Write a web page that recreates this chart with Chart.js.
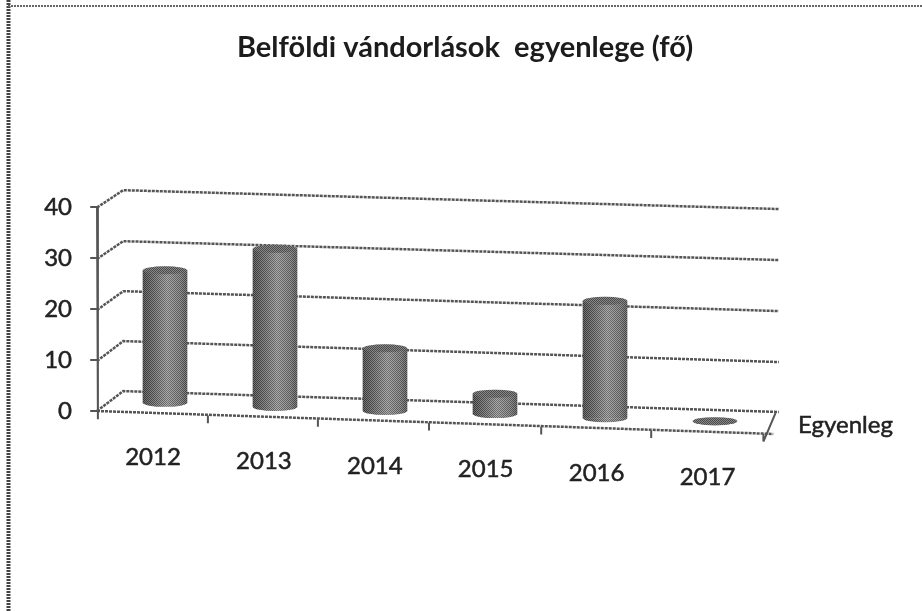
<!DOCTYPE html>
<html lang="hu">
<head>
<meta charset="utf-8">
<title>Belföldi vándorlások egyenlege (fő)</title>
<script src="https://cdn.jsdelivr.net/npm/chart.js@4"></script>
<style>
html,body{margin:0;padding:0;background:#fff;overflow:hidden;width:922px;height:611px}
canvas{display:block}
</style>
</head>
<body>
<canvas id="c" width="930" height="611"></canvas>
<script>
const chartTitle = 'Belföldi vándorlások  egyenlege (fő)';
const seriesName = 'Egyenleg';
const categories = ['2012','2013','2014','2015','2016','2017'];
const values = [26, 31, 12.3, 4, 23, 0];
// the 3D floor tilts downward to the right: where each cylinder stands on the value axis
const floorOffset = [1.6, 0.8, 0, -0.6, -1.4, -2];
const yTickValues = [0, 10, 20, 30, 40];

// perspective gridlines: x in category units, y in value units
const gridX = [-0.618, -0.38, 5.58];
const grid0 = [0, 3.9, -0.2];
const grid10 = [9.8, 13.7, 9.6];
const grid20 = [19.8, 23.5, 19.6];
const grid30 = [29.8, 33.3, 29.6];
const grid40 = [39.9, 43.3, 39.6];
const gridSets = [grid0, grid10, grid20, grid30, grid40];
const floorX = [-0.618, 5.53];
const floorY = [0, -4.5];
const tickX = [5.44, 4.42, 3.42, 2.40, 1.39, 0.39];
const tickTop = [-4.5, -3.8, -3.1, -2.3, -1.6, -0.9];
const tickBottom = [-6.0, -5.3, -4.6, -3.8, -3.1, -2.4];

const gridPts = ys => gridX.map((x, i) => ({x, y: ys[i]}));
const lineStyle = {
  type: 'line', xAxisID: 'x', yAxisID: 'y', order: 2, clip: false,
  borderColor: '#555', borderWidth: 2.5, borderDash: [3, 1],
  pointRadius: 0, tension: 0, fill: false, label: ''
};
const marks = [];
tickX.forEach((x, i) => {
  marks.push({x, y: tickTop[i]}, {x, y: tickBottom[i]}, {x, y: null});
});
// diagonal end of the floor, y axis line and its small outer ticks
marks.push({x: 5.44, y: -6}, {x: 5.55, y: -0.4}, {x: 5.55, y: null});
marks.push({x: -0.618, y: 40}, {x: -0.61, y: -1.6}, {x: -0.61, y: null});
yTickValues.forEach(v => marks.push({x: -0.618, y: v}, {x: -0.68, y: v}, {x: -0.68, y: null}));

function barFill(ctx) {
  const chart = ctx.chart;
  if (!chart.chartArea || ctx.dataIndex === undefined) return '#888';
  const cx = chart.scales.x.getPixelForValue(ctx.dataIndex);
  return cylinderGradient(chart.ctx, cx);
}
function cylinderGradient(c, cx) {
  const g = c.createLinearGradient(cx - 22, 0, cx + 22, 0);
  g.addColorStop(0, '#484848');
  g.addColorStop(0.22, '#666');
  g.addColorStop(0.55, '#989898');
  g.addColorStop(0.85, '#787878');
  g.addColorStop(1, '#585858');
  return g;
}
let halftone = null;
function getHalftone(c) {
  if (halftone) return halftone;
  const t = document.createElement('canvas');
  t.width = 2; t.height = 2;
  const k = t.getContext('2d');
  k.fillStyle = 'rgba(0,0,0,0.28)';
  k.fillRect(0, 0, 1, 1); k.fillRect(1, 1, 1, 1);
  k.fillStyle = 'rgba(255,255,255,0.22)';
  k.fillRect(1, 0, 1, 1); k.fillRect(0, 1, 1, 1);
  halftone = c.createPattern(t, 'repeat');
  return halftone;
}

const sketchPlugin = {
  id: 'sketch',
  beforeDraw(chart) {
    const c = chart.ctx;
    c.save();
    c.fillStyle = '#fff';
    c.fillRect(0, 0, chart.width, chart.height);
    // scanned frame
    c.strokeStyle = '#444';
    c.lineWidth = 4; c.setLineDash([2, 1]);
    c.beginPath(); c.moveTo(8.5, 0); c.lineTo(8.5, 611); c.stroke();
    c.strokeStyle = '#666';
    c.lineWidth = 2;
    c.beginPath(); c.moveTo(8, 6); c.lineTo(930, 6); c.stroke();
    c.restore();
  },
  afterDatasetsDraw(chart) {
    const c = chart.ctx;
    const meta = chart.getDatasetMeta(0);
    const ry = 4;
    c.save();
    meta.data.forEach((bar) => {
      const cx = bar.x, half = bar.width / 2, top = bar.y, base = bar.base;
      // cylinder base
      c.fillStyle = cylinderGradient(c, cx);
      c.beginPath(); c.ellipse(cx, base, half, ry, 0, 0, Math.PI); c.fill();
      // halftone over the whole body
      c.fillStyle = getHalftone(c);
      c.beginPath();
      c.moveTo(cx - half, top);
      c.lineTo(cx - half, base);
      c.ellipse(cx, base, half, ry, 0, Math.PI, 0, true);
      c.lineTo(cx + half, top);
      c.closePath(); c.fill();
      // top cap
      c.fillStyle = '#666';
      c.beginPath(); c.ellipse(cx, top, half, ry, 0, 0, Math.PI * 2); c.fill();
      c.fillStyle = getHalftone(c);
      c.beginPath(); c.ellipse(cx, top, half, ry, 0, 0, Math.PI * 2); c.fill();
    });
    // tilted category labels and the series name
    c.font = '24px Lato';
    c.fillStyle = '#222';
    c.strokeStyle = '#222';
    c.lineWidth = 0.5;
    c.textAlign = 'center';
    c.textBaseline = 'middle';
    const yScale = chart.scales.y;
    meta.data.forEach((bar, i) => {
      const lx = bar.x - 12 + i * 0.9;
      const ly = yScale.getPixelForValue(floorOffset[i]) + 54 + i * 0.4;
      c.fillText(categories[i], lx, ly);
      c.strokeText(categories[i], lx, ly);
    });
    c.textAlign = 'left';
    const last = meta.data[meta.data.length - 1];
    const ny = yScale.getPixelForValue(floorOffset[5]) + 4;
    c.fillText(seriesName, last.x + 83, ny);
    c.strokeText(seriesName, last.x + 83, ny);
    c.restore();
  }
};

new Chart(document.getElementById('c'), {
  data: {
    datasets: [
      {
        type: 'bar', label: seriesName, xAxisID: 'x', yAxisID: 'y', order: 1,
        data: values.map((v, i) => ({x: i, y: [floorOffset[i], floorOffset[i] + v]})),
        backgroundColor: barFill, borderWidth: 0, borderSkipped: false,
        barThickness: 44
      },
      ...gridSets.map(ys => ({...lineStyle, data: gridPts(ys)})),
      {...lineStyle, data: floorX.map((x, i) => ({x, y: floorY[i]}))},
      {...lineStyle, borderDash: [], borderWidth: 2, data: marks, spanGaps: false}
    ]
  },
  options: {
    responsive: false,
    animation: false,
    layout: {padding: 0},
    plugins: {
      legend: {display: false},
      tooltip: {enabled: false},
      title: {
        display: true, text: chartTitle, color: '#1c1c1c',
        font: {family: 'Lato', size: 29, weight: 'bold', lineHeight: 1.2},
        padding: {top: 30, bottom: 91.2}
      }
    },
    scales: {
      x: {type: 'linear', display: false, offset: false, min: -0.5, max: 5.5, bounds: 'ticks',
          position: 'bottom', afterFit(s) { s.height = 149; }},
      y: {
        type: 'linear', min: -10, max: 50,
        afterFit(s) { s.width = 110; },
        afterBuildTicks(s) { s.ticks = yTickValues.map(value => ({value})); },
        grid: {display: false, drawTicks: false},
        border: {display: false},
        ticks: {
          color: '#222', padding: 38,
          textStrokeColor: '#222', textStrokeWidth: 0.5,
          font: {family: 'Lato', size: 24}
        }
      },
      yr: {
        type: 'linear', position: 'right', display: true,
        afterFit(s) { s.width = 160; },
        grid: {display: false, drawTicks: false},
        border: {display: false},
        ticks: {display: false}
      }
    }
  },
  plugins: [sketchPlugin]
});
</script>
</body>
</html>
